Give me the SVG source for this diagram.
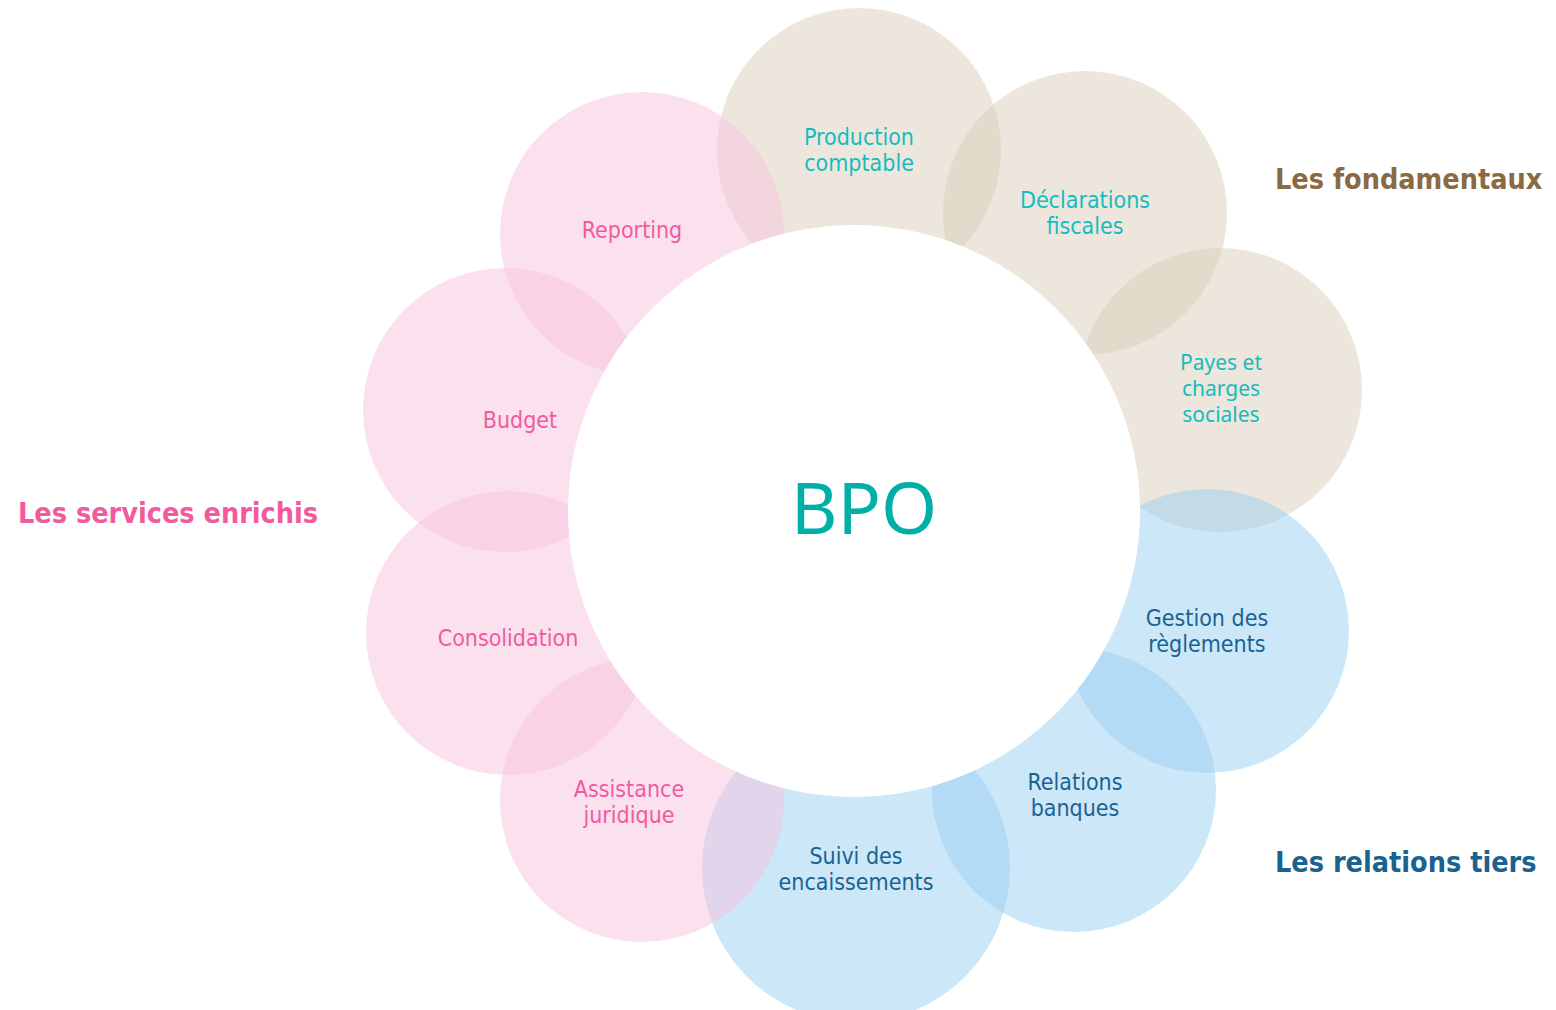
<svg xmlns="http://www.w3.org/2000/svg" width="1556" height="1010" viewBox="0 0 1556 1010">
<style>
.beige{fill:#dbcdb9;fill-opacity:0.5}
.pink{fill:#f7c3dd;fill-opacity:0.5}
.blue{fill:#99cff1;fill-opacity:0.5}
.lbl{font-family:"DejaVu Sans Condensed","DejaVu Sans",sans-serif;font-size:23px;text-anchor:middle}
.geo{font-family:"Noto Sans",sans-serif;font-size:21px;text-anchor:middle;fill:#14bcc0}
.teal{fill:#14bcc0}
.pk{fill:#f35a9e}
.bl{fill:#1a6391}
.head{font-family:"DejaVu Sans Condensed","DejaVu Sans",sans-serif;font-weight:bold;font-size:28.5px}
</style>
<rect width="1556" height="1010" fill="#ffffff"/>
<g id="petals">
<g id="node-production"><circle class="beige" cx="859" cy="150" r="142"/></g>
<g id="node-declarations"><circle class="beige" cx="1085" cy="213" r="142"/></g>
<g id="node-payes"><circle class="beige" cx="1220" cy="390" r="142"/></g>
<g id="node-gestion"><circle class="blue" cx="1207" cy="631" r="142"/></g>
<g id="node-relations"><circle class="blue" cx="1074" cy="790" r="142"/></g>
<g id="node-suivi"><circle class="blue" cx="856" cy="868" r="154"/></g>
<g id="node-assistance"><circle class="pink" cx="642" cy="800" r="142"/></g>
<g id="node-consolidation"><circle class="pink" cx="508" cy="633" r="142"/></g>
<g id="node-budget"><circle class="pink" cx="505" cy="410" r="142"/></g>
<g id="node-reporting"><circle class="pink" cx="642" cy="234" r="142"/></g>
</g>
<g id="connectors"/>
<g id="node-bpo">
<circle cx="854" cy="511" r="286" fill="#ffffff"/>
<text x="864" y="534" font-family="'Noto Sans',sans-serif" font-size="72" text-anchor="middle" fill="#00b0a8">BPO</text>
</g>
<g id="labels">
<text class="lbl teal" x="859" y="145">Production</text>
<text class="lbl teal" x="859" y="171">comptable</text>
<text class="lbl teal" x="1085" y="208">Déclarations</text>
<text class="lbl teal" x="1085" y="234">fiscales</text>
<text class="geo" x="1221" y="370">Payes et</text>
<text class="geo" x="1221" y="396">charges</text>
<text class="geo" x="1221" y="422">sociales</text>
<text class="lbl bl" x="1207" y="626">Gestion des</text>
<text class="lbl bl" x="1207" y="652">règlements</text>
<text class="lbl bl" x="1075" y="790">Relations</text>
<text class="lbl bl" x="1075" y="816">banques</text>
<text class="lbl bl" x="856" y="864">Suivi des</text>
<text class="lbl bl" x="856" y="890">encaissements</text>
<text class="lbl pk" x="629" y="797">Assistance</text>
<text class="lbl pk" x="629" y="823">juridique</text>
<text class="lbl pk" x="508" y="646">Consolidation</text>
<text class="lbl pk" x="520" y="428">Budget</text>
<text class="lbl pk" x="632" y="238">Reporting</text>
</g>
<g id="headings">
<text class="head" x="1275" y="189" fill="#8a6a43">Les fondamentaux</text>
<text class="head" x="18" y="523" fill="#f35a9e">Les services enrichis</text>
<text class="head" x="1275" y="872" fill="#1a6391">Les relations tiers</text>
</g>
</svg>
